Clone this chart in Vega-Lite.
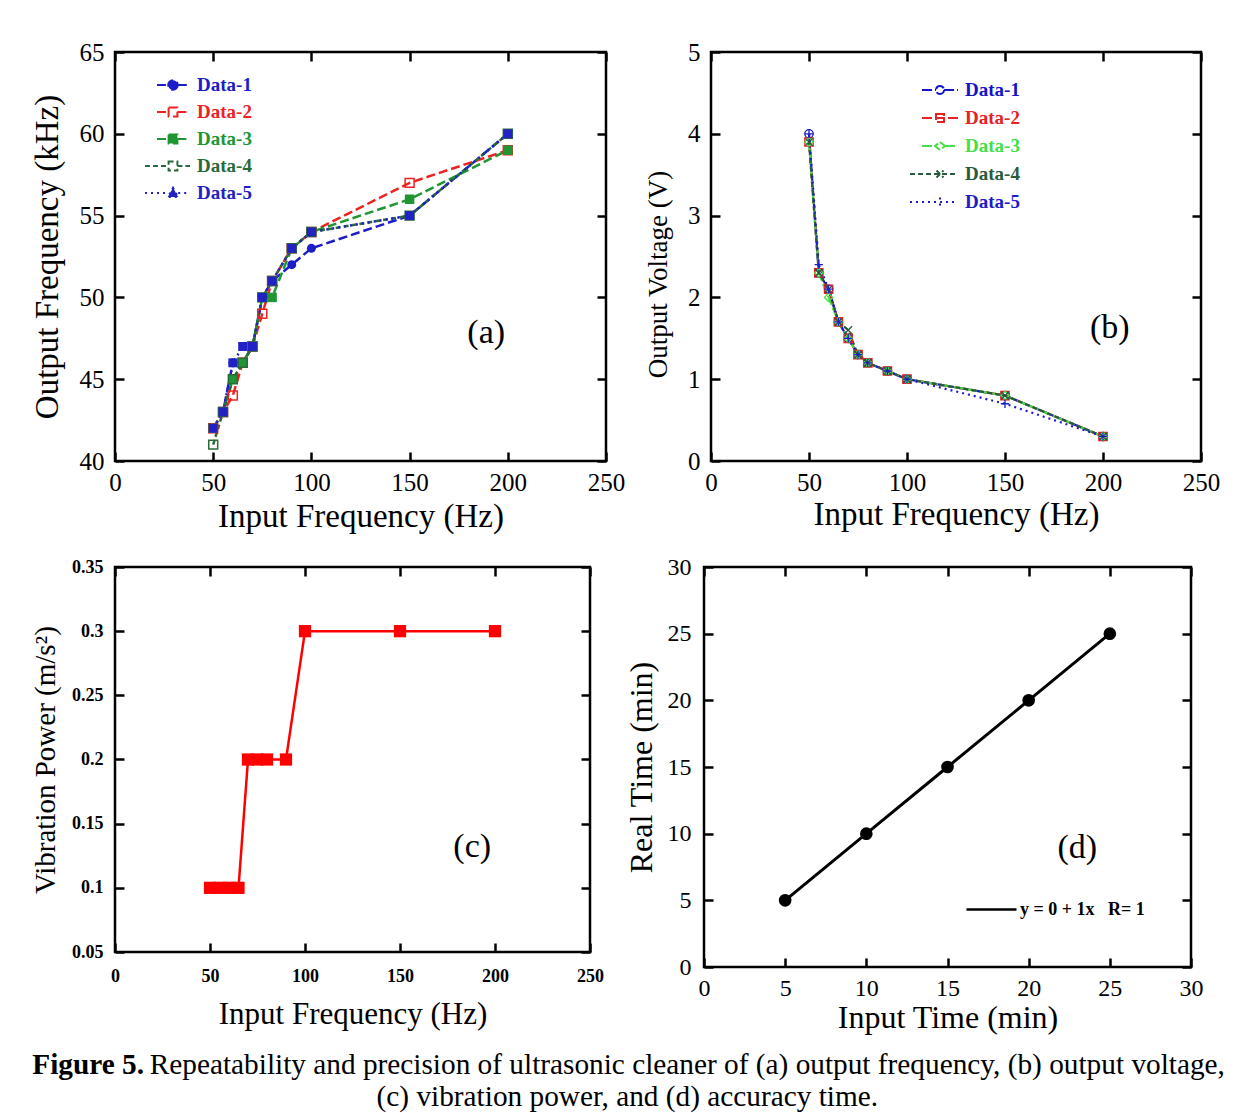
{
  "$schema": "https://vega.github.io/schema/vega-lite/v6.json",
  "background": "white",
  "padding": {"left": 29, "top": 38, "right": 5, "bottom": 5},
  "datasets": {
    "a": [
      {"f": 50, "v": 42, "s": "Data-1"}, {"f": 55, "v": 43, "s": "Data-1"}, {"f": 60, "v": 46, "s": "Data-1"}, {"f": 65, "v": 46, "s": "Data-1"}, {"f": 70, "v": 47, "s": "Data-1"}, {"f": 75, "v": 50, "s": "Data-1"}, {"f": 80, "v": 51, "s": "Data-1"}, {"f": 90, "v": 52, "s": "Data-1"}, {"f": 100, "v": 53, "s": "Data-1"}, {"f": 150, "v": 55, "s": "Data-1"}, {"f": 200, "v": 60, "s": "Data-1"},
      {"f": 50, "v": 42, "s": "Data-2"}, {"f": 55, "v": 43, "s": "Data-2"}, {"f": 60, "v": 44, "s": "Data-2"}, {"f": 65, "v": 46, "s": "Data-2"}, {"f": 70, "v": 47, "s": "Data-2"}, {"f": 75, "v": 49, "s": "Data-2"}, {"f": 80, "v": 51, "s": "Data-2"}, {"f": 90, "v": 53, "s": "Data-2"}, {"f": 100, "v": 54, "s": "Data-2"}, {"f": 150, "v": 57, "s": "Data-2"}, {"f": 200, "v": 59, "s": "Data-2"},
      {"f": 50, "v": 42, "s": "Data-3"}, {"f": 55, "v": 43, "s": "Data-3"}, {"f": 60, "v": 45, "s": "Data-3"}, {"f": 65, "v": 46, "s": "Data-3"}, {"f": 70, "v": 47, "s": "Data-3"}, {"f": 75, "v": 50, "s": "Data-3"}, {"f": 80, "v": 50, "s": "Data-3"}, {"f": 90, "v": 53, "s": "Data-3"}, {"f": 100, "v": 54, "s": "Data-3"}, {"f": 150, "v": 56, "s": "Data-3"}, {"f": 200, "v": 59, "s": "Data-3"},
      {"f": 50, "v": 41, "s": "Data-4"}, {"f": 55, "v": 43, "s": "Data-4"}, {"f": 60, "v": 45, "s": "Data-4"}, {"f": 65, "v": 46, "s": "Data-4"}, {"f": 70, "v": 47, "s": "Data-4"}, {"f": 75, "v": 50, "s": "Data-4"}, {"f": 80, "v": 51, "s": "Data-4"}, {"f": 90, "v": 53, "s": "Data-4"}, {"f": 100, "v": 54, "s": "Data-4"}, {"f": 150, "v": 55, "s": "Data-4"}, {"f": 200, "v": 60, "s": "Data-4"},
      {"f": 50, "v": 42, "s": "Data-5"}, {"f": 55, "v": 43, "s": "Data-5"}, {"f": 60, "v": 46, "s": "Data-5"}, {"f": 65, "v": 47, "s": "Data-5"}, {"f": 70, "v": 47, "s": "Data-5"}, {"f": 75, "v": 50, "s": "Data-5"}, {"f": 80, "v": 51, "s": "Data-5"}, {"f": 90, "v": 53, "s": "Data-5"}, {"f": 100, "v": 54, "s": "Data-5"}, {"f": 150, "v": 55, "s": "Data-5"}, {"f": 200, "v": 60, "s": "Data-5"}
    ],
    "b": [
      {"f": 50, "v": 4.0, "s": "Data-1"}, {"f": 55, "v": 2.3, "s": "Data-1"}, {"f": 60, "v": 2.1, "s": "Data-1"}, {"f": 65, "v": 1.7, "s": "Data-1"}, {"f": 70, "v": 1.5, "s": "Data-1"}, {"f": 75, "v": 1.3, "s": "Data-1"}, {"f": 80, "v": 1.2, "s": "Data-1"}, {"f": 90, "v": 1.1, "s": "Data-1"}, {"f": 100, "v": 1.0, "s": "Data-1"}, {"f": 150, "v": 0.8, "s": "Data-1"}, {"f": 200, "v": 0.3, "s": "Data-1"},
      {"f": 50, "v": 3.9, "s": "Data-2"}, {"f": 55, "v": 2.3, "s": "Data-2"}, {"f": 60, "v": 2.1, "s": "Data-2"}, {"f": 65, "v": 1.7, "s": "Data-2"}, {"f": 70, "v": 1.5, "s": "Data-2"}, {"f": 75, "v": 1.3, "s": "Data-2"}, {"f": 80, "v": 1.2, "s": "Data-2"}, {"f": 90, "v": 1.1, "s": "Data-2"}, {"f": 100, "v": 1.0, "s": "Data-2"}, {"f": 150, "v": 0.8, "s": "Data-2"}, {"f": 200, "v": 0.3, "s": "Data-2"},
      {"f": 50, "v": 3.9, "s": "Data-3"}, {"f": 55, "v": 2.3, "s": "Data-3"}, {"f": 60, "v": 2.0, "s": "Data-3"}, {"f": 65, "v": 1.7, "s": "Data-3"}, {"f": 70, "v": 1.5, "s": "Data-3"}, {"f": 75, "v": 1.3, "s": "Data-3"}, {"f": 80, "v": 1.2, "s": "Data-3"}, {"f": 90, "v": 1.1, "s": "Data-3"}, {"f": 100, "v": 1.0, "s": "Data-3"}, {"f": 150, "v": 0.8, "s": "Data-3"}, {"f": 200, "v": 0.3, "s": "Data-3"},
      {"f": 50, "v": 3.9, "s": "Data-4"}, {"f": 55, "v": 2.3, "s": "Data-4"}, {"f": 60, "v": 2.1, "s": "Data-4"}, {"f": 65, "v": 1.7, "s": "Data-4"}, {"f": 70, "v": 1.6, "s": "Data-4"}, {"f": 75, "v": 1.3, "s": "Data-4"}, {"f": 80, "v": 1.2, "s": "Data-4"}, {"f": 90, "v": 1.1, "s": "Data-4"}, {"f": 100, "v": 1.0, "s": "Data-4"}, {"f": 150, "v": 0.8, "s": "Data-4"}, {"f": 200, "v": 0.3, "s": "Data-4"},
      {"f": 50, "v": 4.0, "s": "Data-5"}, {"f": 55, "v": 2.4, "s": "Data-5"}, {"f": 60, "v": 2.1, "s": "Data-5"}, {"f": 65, "v": 1.7, "s": "Data-5"}, {"f": 70, "v": 1.5, "s": "Data-5"}, {"f": 75, "v": 1.3, "s": "Data-5"}, {"f": 80, "v": 1.2, "s": "Data-5"}, {"f": 90, "v": 1.1, "s": "Data-5"}, {"f": 100, "v": 1.0, "s": "Data-5"}, {"f": 150, "v": 0.7, "s": "Data-5"}, {"f": 200, "v": 0.3, "s": "Data-5"}
    ],
    "c": [
      {"f": 50, "p": 0.1}, {"f": 55, "p": 0.1}, {"f": 60, "p": 0.1}, {"f": 65, "p": 0.1}, {"f": 70, "p": 0.2}, {"f": 75, "p": 0.2}, {"f": 80, "p": 0.2}, {"f": 90, "p": 0.2}, {"f": 100, "p": 0.3}, {"f": 150, "p": 0.3}, {"f": 200, "p": 0.3}
    ],
    "d": [
      {"t": 5, "r": 5, "fit": "y = 0 + 1x\u00a0\u00a0\u00a0R= 1"}, {"t": 10, "r": 10, "fit": "y = 0 + 1x\u00a0\u00a0\u00a0R= 1"}, {"t": 15, "r": 15, "fit": "y = 0 + 1x\u00a0\u00a0\u00a0R= 1"}, {"t": 20, "r": 20, "fit": "y = 0 + 1x\u00a0\u00a0\u00a0R= 1"}, {"t": 25, "r": 25, "fit": "y = 0 + 1x\u00a0\u00a0\u00a0R= 1"}
    ]
  },
  "resolve": {"scale": {"color": "independent", "strokeDash": "independent"}, "legend": {"color": "independent", "strokeDash": "independent"}},
  "vconcat": [
    {
      "spacing": 18,
      "resolve": {"scale": {"color": "independent", "strokeDash": "independent"}, "legend": {"color": "independent", "strokeDash": "independent"}},
      "title": {"text": "Repeatability and precision of ultrasonic cleaner of (a) output frequency, (b) output voltage,", "orient": "bottom", "anchor": "start", "dx": 120, "offset": -30, "font": "Liberation Serif", "fontSize": 29.3, "fontWeight": "normal", "color": "black"},
      "vconcat": [
        {
          "spacing": 105,
          "bounds": "flush",
          "resolve": {"scale": {"color": "independent", "strokeDash": "independent"}, "legend": {"color": "independent", "strokeDash": "independent"}},
          "hconcat": [
            {
              "width": 491, "height": 409,
              "data": {"name": "a"},
              "layer": [
                {
                  "mark": {"type": "line", "strokeWidth": 2.5},
                  "encoding": {
                    "x": {"field": "f", "type": "quantitative", "scale": {"domain": [0, 250], "nice": false}, "axis": {"orient": "bottom", "values": [0, 50, 100, 150, 200, 250], "title": "Input Frequency (Hz)", "labelFontSize": 25, "labelPadding": 18, "titleFontSize": 33, "titlePadding": 5}},
                    "y": {"field": "v", "type": "quantitative", "scale": {"domain": [40, 65], "nice": false, "zero": false}, "axis": {"orient": "left", "values": [40, 45, 50, 55, 60, 65], "title": "Output Frequency (kHz)", "labelFontSize": 25, "labelPadding": 20, "titleFontSize": 33, "titlePadding": 15}},
                    "color": {"field": "s", "type": "nominal", "scale": {"domain": ["Data-1", "Data-2", "Data-3", "Data-4", "Data-5"], "range": ["#1c1cc8", "#ee2222", "#1f9633", "#2a6a3a", "#2222c4"]},
                      "legend": {"orient": "none", "legendX": 54, "legendY": 22, "title": null, "labelFont": "Liberation Serif", "labelFontSize": 19, "labelFontWeight": "bold", "symbolSize": 400, "symbolStrokeWidth": 2, "labelOffset": 6, "rowPadding": 6,
                        "encode": {
                          "symbols": {"update": {
                            "shape": {"signal": "datum.value=='Data-1'?'M-2.3,0H-1.18M-0.22,0H1M-0.22,0A0.48,0.48,0,1,1,-1.18,0A0.48,0.48,0,1,1,-0.22,0':datum.value=='Data-5'?'M-3.5,0H-1.22M-0.18,0H1M-0.7,-0.52L-0.18,0.4L-1.22,0.4Z':datum.value=='Data-4'?'M-3.5,0H-1.14M-0.26,0H1M-1.14,-0.44H-0.26V0.44H-1.14Z':'M-2.3,0H-1.14M-0.26,0H1M-1.14,-0.44H-0.26V0.44H-1.14Z'"},
                            "fill": {"signal": "datum.value=='Data-1'?'#1c1cc8':datum.value=='Data-3'?'#1f9633':datum.value=='Data-5'?'#2222c4':'white'"},
                            "stroke": {"signal": "datum.value=='Data-1'?'#1c1cc8':datum.value=='Data-2'?'#ee2222':datum.value=='Data-3'?'#1f9633':datum.value=='Data-4'?'#2a6a3a':'#2222c4'"},
                            "opacity": {"value": 1}
                          }},
                          "labels": {"update": {"fill": {"signal": "datum.value=='Data-1'?'#1c1cc8':datum.value=='Data-2'?'#ee2222':datum.value=='Data-3'?'#1f9633':datum.value=='Data-4'?'#2a6a3a':'#2222c4'"}}}
                        }
                      }
                    },
                    "strokeDash": {"field": "s", "type": "nominal", "scale": {"domain": ["Data-1", "Data-2", "Data-3", "Data-4", "Data-5"], "range": [[9, 4], [9, 4], [9, 4], [5, 3], [2, 4]]}, "legend": null}
                  }
                },
                {"transform": [{"filter": "datum.s=='Data-1'"}], "mark": {"type": "point", "shape": "circle", "filled": true, "color": "#1c1cc8", "size": 80, "opacity": 1}, "encoding": {"x": {"field": "f", "type": "quantitative", "axis": null}, "y": {"field": "v", "type": "quantitative", "axis": null}}},
                {"transform": [{"filter": "datum.s=='Data-2'"}], "mark": {"type": "point", "shape": "square", "filled": false, "color": "#ee2222", "strokeWidth": 1.5, "size": 80, "opacity": 1}, "encoding": {"x": {"field": "f", "type": "quantitative", "axis": null}, "y": {"field": "v", "type": "quantitative", "axis": null}}},
                {"transform": [{"filter": "datum.s=='Data-3'"}], "mark": {"type": "point", "shape": "square", "filled": true, "color": "#1f9633", "size": 90, "opacity": 1}, "encoding": {"x": {"field": "f", "type": "quantitative", "axis": null}, "y": {"field": "v", "type": "quantitative", "axis": null}}},
                {"transform": [{"filter": "datum.s=='Data-4'"}], "mark": {"type": "point", "shape": "square", "filled": false, "color": "#2a6a3a", "strokeWidth": 1.5, "size": 80, "opacity": 1}, "encoding": {"x": {"field": "f", "type": "quantitative", "axis": null}, "y": {"field": "v", "type": "quantitative", "axis": null}}},
                {"transform": [{"filter": "datum.s=='Data-5'"}], "mark": {"type": "point", "shape": "square", "filled": true, "color": "#2222c4", "size": 80, "opacity": 1}, "encoding": {"x": {"field": "f", "type": "quantitative", "axis": null}, "y": {"field": "v", "type": "quantitative", "axis": null}}},
                {
                  "mark": {"type": "point", "opacity": 0},
                  "encoding": {
                    "x": {"field": "f", "type": "quantitative", "axis": {"orient": "top", "labels": false, "title": null, "values": [0, 50, 100, 150, 200, 250]}},
                    "y": {"field": "v", "type": "quantitative", "axis": {"orient": "right", "labels": false, "title": null, "values": [40, 45, 50, 55, 60, 65]}}
                  }
                },
                {
                  "data": {"values": [{}]},
                  "mark": {"type": "text", "fontSize": 34, "font": "Liberation Serif", "color": "black"},
                  "encoding": {
                    "x": {"datum": 189, "type": "quantitative", "axis": null},
                    "y": {"datum": 47.8, "type": "quantitative", "axis": null},
                    "text": {"value": "(a)"}
                  }
                }
              ],
              "resolve": {"axis": {"x": "independent", "y": "independent"}}
            },
            {
              "width": 490, "height": 409,
              "data": {"name": "b"},
              "layer": [
                {
                  "mark": {"type": "line", "strokeWidth": 2.2},
                  "encoding": {
                    "x": {"field": "f", "type": "quantitative", "scale": {"domain": [0, 250], "nice": false}, "axis": {"orient": "bottom", "values": [0, 50, 100, 150, 200, 250], "title": "Input Frequency (Hz)", "labelFontSize": 25, "labelPadding": 18, "titleFontSize": 33, "titlePadding": 3}},
                    "y": {"field": "v", "type": "quantitative", "scale": {"domain": [0, 5], "nice": false}, "axis": {"orient": "left", "values": [0, 1, 2, 3, 4, 5], "title": "Output Voltage (V)", "labelFontSize": 25, "labelPadding": 20, "titleFontSize": 27, "titlePadding": 15, "titleY": 222}},
                    "color": {"field": "s", "type": "nominal", "scale": {"domain": ["Data-1", "Data-2", "Data-3", "Data-4", "Data-5"], "range": ["#1414c8", "#e62222", "#44e044", "#2a5a3c", "#1c1cc8"]},
                      "legend": {"orient": "none", "legendX": 226, "legendY": 27, "title": null, "labelFont": "Liberation Serif", "labelFontSize": 19, "labelFontWeight": "bold", "symbolSize": 400, "symbolStrokeWidth": 2, "labelOffset": 6, "rowPadding": 7,
                        "encode": {
                          "symbols": {"update": {
                            "shape": {"signal": "datum.value=='Data-1'?'M-2.6,0H-1.2M-0.4,0H1M-0.4,0A0.4,0.4,0,1,1,-1.2,0A0.4,0.4,0,1,1,-0.4,0':datum.value=='Data-2'?'M-2.6,0H1M-1.2,-0.4H-0.4V0.4H-1.2Z':datum.value=='Data-3'?'M-2.6,0H-1.3M-0.3,0H1M-0.8,-0.4L-0.3,0L-0.8,0.4L-1.3,0Z':datum.value=='Data-4'?'M-3.8,0H1M-1.15,-0.35L-0.45,0.35M-1.15,0.35L-0.45,-0.35':'M-3.8,0H1M-0.8,-0.45V0.45'"},
                            "fill": {"value": "transparent"},
                            "stroke": {"signal": "datum.value=='Data-1'?'#1414c8':datum.value=='Data-2'?'#e62222':datum.value=='Data-3'?'#44e044':datum.value=='Data-4'?'#2a5a3c':'#1c1cc8'"},
                            "opacity": {"value": 1}
                          }},
                          "labels": {"update": {"fill": {"signal": "datum.value=='Data-1'?'#1414c8':datum.value=='Data-2'?'#e62222':datum.value=='Data-3'?'#44e044':datum.value=='Data-4'?'#2a5a3c':'#1c1cc8'"}}}
                        }
                      }
                    },
                    "strokeDash": {"field": "s", "type": "nominal", "scale": {"domain": ["Data-1", "Data-2", "Data-3", "Data-4", "Data-5"], "range": [[10, 3], [10, 3], [10, 3], [5, 3], [2, 4]]}, "legend": null}
                  }
                },
                {"transform": [{"filter": "datum.s=='Data-1'"}], "mark": {"type": "point", "shape": "circle", "filled": false, "color": "#1414c8", "strokeWidth": 1.3, "size": 70, "opacity": 1}, "encoding": {"x": {"field": "f", "type": "quantitative", "axis": null}, "y": {"field": "v", "type": "quantitative", "axis": null}}},
                {"transform": [{"filter": "datum.s=='Data-2'"}], "mark": {"type": "point", "shape": "square", "filled": false, "color": "#e62222", "strokeWidth": 1.3, "size": 70, "opacity": 1}, "encoding": {"x": {"field": "f", "type": "quantitative", "axis": null}, "y": {"field": "v", "type": "quantitative", "axis": null}}},
                {"transform": [{"filter": "datum.s=='Data-3'"}], "mark": {"type": "point", "shape": "diamond", "filled": false, "color": "#44e044", "strokeWidth": 1.3, "size": 70, "opacity": 1}, "encoding": {"x": {"field": "f", "type": "quantitative", "axis": null}, "y": {"field": "v", "type": "quantitative", "axis": null}}},
                {"transform": [{"filter": "datum.s=='Data-4'"}], "mark": {"type": "point", "shape": "M-1,-1L1,1M-1,1L1,-1", "filled": false, "color": "#2a5a3c", "strokeWidth": 1.3, "size": 60, "opacity": 1}, "encoding": {"x": {"field": "f", "type": "quantitative", "axis": null}, "y": {"field": "v", "type": "quantitative", "axis": null}}},
                {"transform": [{"filter": "datum.s=='Data-5'"}], "mark": {"type": "point", "shape": "M-1,0H1M0,-1V1", "filled": false, "color": "#1c1cc8", "strokeWidth": 1.3, "size": 70, "opacity": 1}, "encoding": {"x": {"field": "f", "type": "quantitative", "axis": null}, "y": {"field": "v", "type": "quantitative", "axis": null}}},
                {
                  "mark": {"type": "point", "opacity": 0},
                  "encoding": {
                    "x": {"field": "f", "type": "quantitative", "axis": {"orient": "top", "labels": false, "title": null, "values": [0, 50, 100, 150, 200, 250]}},
                    "y": {"field": "v", "type": "quantitative", "axis": {"orient": "right", "labels": false, "title": null, "values": [0, 1, 2, 3, 4, 5]}}
                  }
                },
                {
                  "data": {"values": [{}]},
                  "mark": {"type": "text", "fontSize": 34, "font": "Liberation Serif", "color": "black"},
                  "encoding": {
                    "x": {"datum": 203.5, "type": "quantitative", "axis": null},
                    "y": {"datum": 1.63, "type": "quantitative", "axis": null},
                    "text": {"value": "(b)"}
                  }
                }
              ],
              "resolve": {"axis": {"x": "independent", "y": "independent"}}
            }
          ]
        },
        {
          "spacing": 114,
          "bounds": "flush",
          "resolve": {"scale": {"color": "independent", "strokeDash": "independent"}, "legend": {"color": "independent", "strokeDash": "independent"}},
          "title": {"text": "Figure 5.", "orient": "bottom", "anchor": "start", "dx": 2, "offset": 17, "font": "Liberation Serif", "fontSize": 29.3, "fontWeight": "bold", "color": "black"},
          "hconcat": [
            {
              "width": 475, "height": 385,
              "data": {"name": "c"},
              "layer": [
                {
                  "mark": {"type": "line", "color": "#ff0000", "strokeWidth": 2.5},
                  "encoding": {
                    "x": {"field": "f", "type": "quantitative", "scale": {"domain": [0, 250], "nice": false}, "axis": {"orient": "bottom", "values": [0, 50, 100, 150, 200, 250], "title": "Input Frequency (Hz)", "labelFontSize": 18, "labelFontWeight": "bold", "labelPadding": 24, "titleFontSize": 31, "titlePadding": 14}},
                    "y": {"field": "p", "type": "quantitative", "scale": {"domain": [0.05, 0.35], "nice": false, "zero": false}, "axis": {"orient": "left", "values": [0.05, 0.1, 0.15, 0.2, 0.25, 0.3, 0.35], "format": "~g", "title": "Vibration Power (m/s²)", "labelFontSize": 18, "labelFontWeight": "bold", "labelPadding": 21, "titleFontSize": 29, "titlePadding": 11}}
                  }
                },
                {
                  "mark": {"type": "square", "color": "#ff0000", "size": 150, "opacity": 1},
                  "encoding": {
                    "x": {"field": "f", "type": "quantitative", "axis": null},
                    "y": {"field": "p", "type": "quantitative", "axis": null}
                  }
                },
                {
                  "mark": {"type": "point", "opacity": 0},
                  "encoding": {
                    "x": {"field": "f", "type": "quantitative", "axis": {"orient": "top", "labels": false, "title": null, "values": [0, 50, 100, 150, 200, 250]}},
                    "y": {"field": "p", "type": "quantitative", "axis": {"orient": "right", "labels": false, "title": null, "values": [0.05, 0.1, 0.15, 0.2, 0.25, 0.3, 0.35]}}
                  }
                },
                {
                  "data": {"values": [{}]},
                  "mark": {"type": "text", "fontSize": 34, "font": "Liberation Serif", "color": "black"},
                  "encoding": {
                    "x": {"datum": 188, "type": "quantitative", "axis": null},
                    "y": {"datum": 0.132, "type": "quantitative", "axis": null},
                    "text": {"value": "(c)"}
                  }
                }
              ],
              "resolve": {"axis": {"x": "independent", "y": "independent"}}
            },
            {
              "width": 487, "height": 400,
              "data": {"name": "d"},
              "layer": [
                {
                  "mark": {"type": "line", "strokeWidth": 3},
                  "encoding": {
                    "x": {"field": "t", "type": "quantitative", "scale": {"domain": [0, 30], "nice": false}, "axis": {"orient": "bottom", "values": [0, 5, 10, 15, 20, 25, 30], "title": "Input Time (min)", "labelFontSize": 24, "labelPadding": 18, "titleFontSize": 32, "titlePadding": 2}},
                    "y": {"field": "r", "type": "quantitative", "scale": {"domain": [0, 30], "nice": false}, "axis": {"orient": "left", "values": [0, 5, 10, 15, 20, 25, 30], "title": "Real Time (min)", "labelFontSize": 24, "labelPadding": 22, "titleFontSize": 32, "titlePadding": 9}},
                    "color": {"field": "fit", "type": "nominal", "scale": {"domain": ["y = 0 + 1x\u00a0\u00a0\u00a0R= 1"], "range": ["black"]},
                      "legend": {"orient": "none", "legendX": 261, "legendY": 316, "title": null, "symbolType": "stroke", "symbolSize": 2500, "symbolStrokeWidth": 2.5, "labelFont": "Liberation Serif", "labelFontSize": 18, "labelFontWeight": "bold", "labelColor": "black", "labelOffset": 2}
                    }
                  }
                },
                {
                  "mark": {"type": "circle", "color": "black", "size": 160, "opacity": 1},
                  "encoding": {
                    "x": {"field": "t", "type": "quantitative", "axis": null},
                    "y": {"field": "r", "type": "quantitative", "axis": null}
                  }
                },
                {
                  "mark": {"type": "point", "opacity": 0},
                  "encoding": {
                    "x": {"field": "t", "type": "quantitative", "axis": {"orient": "top", "labels": false, "title": null, "values": [0, 5, 10, 15, 20, 25, 30]}},
                    "y": {"field": "r", "type": "quantitative", "axis": {"orient": "right", "labels": false, "title": null, "values": [0, 5, 10, 15, 20, 25, 30]}}
                  }
                },
                {
                  "data": {"values": [{}]},
                  "mark": {"type": "text", "fontSize": 34, "font": "Liberation Serif", "color": "black"},
                  "encoding": {
                    "x": {"datum": 23.0, "type": "quantitative", "axis": null},
                    "y": {"datum": 8.9, "type": "quantitative", "axis": null},
                    "text": {"value": "(d)"}
                  }
                }
              ],
              "resolve": {"axis": {"x": "independent", "y": "independent"}}
            }
          ]
        }
      ]
    }
  ],
  "title": {
    "text": "(c) vibration power, and (d) accuracy time.",
    "orient": "bottom", "anchor": "middle", "font": "Liberation Serif", "fontSize": 29.3, "fontWeight": "normal", "offset": 2, "color": "black"
  },
  "config": {
    "view": {"stroke": "black", "strokeWidth": 2.5},
    "axis": {"grid": false, "domain": false, "ticks": true, "tickSize": -9, "tickWidth": 2.5, "tickColor": "black", "labelColor": "black", "titleColor": "black", "labelFont": "Liberation Serif", "titleFont": "Liberation Serif", "titleFontWeight": "normal", "labelFlush": false},
    "legend": {"labelFont": "Liberation Serif", "symbolOpacity": 1}
  }
}
